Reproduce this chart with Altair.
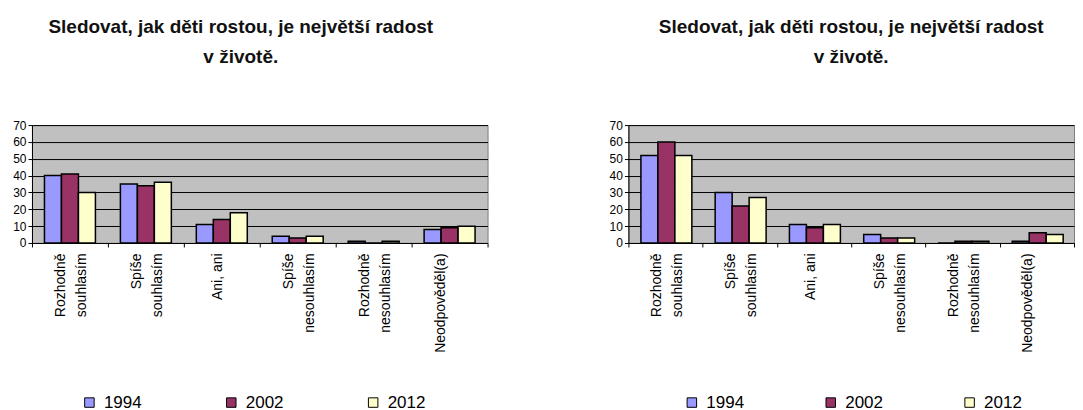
import altair as alt
import pandas as pd

categories = ["Rozhodně souhlasím", "Spíše souhlasím", "Ani, ani",
              "Spíše nesouhlasím", "Rozhodně nesouhlasím", "Neodpověděl(a)"]
years = ["1994", "2002", "2012"]
left_1994 = [40, 35, 11, 4, 1, 8]
left_2002 = [41, 34, 14, 3, 0, 9]
left_2012 = [30, 36, 18, 4, 1, 10]
right_1994 = [52, 30, 11, 5, 0, 1]
right_2002 = [60, 22, 9, 3, 1, 6]
right_2012 = [52, 27, 11, 3, 1, 5]
title_lines = ["Sledovat, jak děti rostou, je největší radost", "v životě."]
colors = ["#9999FF", "#993366", "#FFFFCC"]
y_ticks = [0, 10, 20, 30, 40, 50, 60, 70]

FONT = "Liberation Sans"


def make_df(v94, v02, v12):
    rows = []
    for yr, vals in zip(years, [v94, v02, v12]):
        for c, v in zip(categories, vals):
            rows.append({"kat": c, "rok": yr, "hodnota": v})
    return pd.DataFrame(rows)


def panel(df, width, legend_x, col_pad, title_dx):
    return alt.Chart(df).mark_bar(stroke="black", strokeWidth=1.5).encode(
        x=alt.X("kat:N", sort=categories, title=None,
                scale=alt.Scale(paddingInner=0, paddingOuter=0),
                axis=alt.Axis(labelAngle=-90, labelFontSize=14, labelFont=FONT,
                              labelColor="black", labelLineHeight=21,
                              labelExpr="datum.label == 'Ani, ani' || datum.label == 'Neodpověděl(a)' ? datum.label : split(datum.label, ' ')",
                              labelOffset={"condition": {"test": "datum.label == 'Ani, ani'", "value": -4}, "value": -9},
                              tickBand="extent", tickColor="black", tickSize=4,
                              domainColor="black", labelPadding=6)),
        xOffset=alt.XOffset("rok:N", sort=years,
                            scale=alt.Scale(paddingInner=0, paddingOuter=0.735)),
        y=alt.Y("hodnota:Q", title=None,
                scale=alt.Scale(domain=[0, 70], nice=False),
                axis=alt.Axis(values=y_ticks, labelFontSize=12, labelFont=FONT,
                              labelColor="black", grid=True, gridColor="black",
                              gridWidth=1, tickColor="black", tickSize=4,
                              domainColor="black", labelPadding=2)),
        color=alt.Color("rok:N", sort=years,
                        scale=alt.Scale(domain=years, range=colors),
                        legend=alt.Legend(title=None, orient="none",
                                          direction="horizontal",
                                          legendX=legend_x, legendY=269,
                                          symbolType="square", symbolSize=90,
                                          symbolStrokeColor="black",
                                          symbolStrokeWidth=1,
                                          labelFontSize=17, labelFont=FONT,
                                          labelColor="black",
                                          columnPadding=col_pad, labelOffset=6)),
    ).properties(
        width=width, height=118,
        title=alt.TitleParams(title_lines, fontSize=19, font=FONT,
                              fontWeight="bold", color="#111111",
                              lineHeight=30, offset=52, anchor="middle",
                              dx=title_dx),
    )


left = panel(make_df(left_1994, left_2002, left_2012), 456, 49, 81, -19)
right = panel(make_df(right_1994, right_2002, right_2012), 446, 55, 78, 0)

chart = alt.hconcat(left, right, spacing=120).resolve_scale(
    color="independent", x="independent", y="independent"
).configure_view(
    fill="#C0C0C0", stroke="#808080", strokeWidth=1
).properties(
    padding={"left": 4, "top": 9, "right": 0, "bottom": 5}
)

chart.save("out.html", embed_options={"renderer": "svg", "actions": False})
